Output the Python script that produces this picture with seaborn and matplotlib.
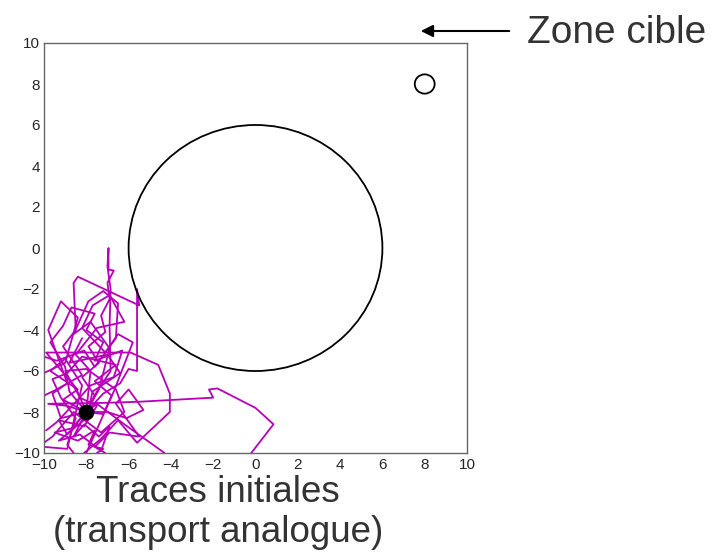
import numpy as np
import pandas as pd
import matplotlib
matplotlib.use("Agg")
import matplotlib.pyplot as plt
import seaborn as sns
from matplotlib.ticker import MultipleLocator

# ---- data ----
source_x = [-8.0]
source_y = [-8.0]

big_circle_center = (0.0, 0.0)
big_circle_radius = 6.0
target_center = (8.0, 8.0)
target_radius = 0.47

t1_x = [-8, -8.9, -9.8, -7.0, -5.5, -2.0, -2.2, -1.8, 0.0, 0.85, -0.2]
t1_y = [-8, -7.7, -7.6, -7.55, -7.5, -7.3, -6.9, -6.85, -7.8, -8.6, -10]

t2_x = [-8, -7.6, -8.2, -7.4, -7.9, -7.1, -7.3, -6.9, -7.0, -6.7, -6.95, -6.95, -7.0, -6.85, -6.9, -6.85, -7.5, -8.2]
t2_y = [-8, -7.2, -6.3, -5.6, -4.8, -4.1, -3.3, -2.5, -1.7, -1.1, -1.05, 0.0, -0.9, -2.0, -3.8, -6.0, -7.0, -8.4]

t3_x = [-8, -7.2, -6.4, -6.0, -5.6, -5.6, -5.5, -8.4, -8.6, -8.5, -9.1, -8.2, -9.4, -10]
t3_y = [-8, -7.1, -6.6, -5.9, -6.0, -2.0, -2.8, -1.4, -1.7, -4.0, -4.8, -6.2, -6.9, -7.2]

t4_x = [-8, -7.5, -6.2, -4.3]
t4_y = [-8, -7.6, -8.6, -10]

t5_x = [-8, -8.5, -9.9, -5.9, -4.6, -4.05, -4.05, -5.6, -6.5, -7.3, -8.1]
t5_y = [-8, -6.8, -5.1, -5.1, -5.7, -7.1, -8.0, -9.5, -8.4, -9.3, -10]

t6_x = [-8, -8.8, -9.0, -9.7, -9.1, -8.7, -7.6, -8.0, -7.2, -7.6, -6.3, -6.7, -7.8, -8.4, -9.4, -9.9]
t6_y = [-8, -7.0, -5.8, -4.6, -3.8, -2.9, -3.2, -4.0, -4.6, -5.5, -5.0, -6.3, -6.7, -7.4, -8.5, -8.9]

t7_x = [-8, -8.7, -9.5, -8.4, -7.6, -7.9, -7.2, -7.5]
t7_y = [-8, -8.8, -9.0, -9.4, -8.9, -9.6, -9.8, -10]

t8_x = [-8, -7.2, -6.8, -7.6, -6.6, -8.2, -8.9, -9.6, -9.2, -8.5, -8.9, -8.6]
t8_y = [-8, -8.1, -7.2, -6.5, -5.7, -5.3, -6.1, -6.4, -7.3, -8.3, -9.6, -10]

t9_x = [-8, -9.2, -9.6, -8.9, -9.8, -9.2, -8.4, -9.0, -10]
t9_y = [-8, -8.3, -7.1, -6.6, -4.0, -2.6, -3.4, -5.6, -6.1]

t10_x = [-8, -7.0, -6.1, -5.3, -6.0, -6.6, -5.5, -6.9, -7.6, -7.1]
t10_y = [-8, -8.0, -8.3, -7.9, -6.9, -7.6, -9.2, -9.0, -9.7, -10]

t11_x = [-8, -8.6, -8.1, -7.4, -6.9, -7.3, -8.3, -9.3, -8.0, -7.7, -6.4, -7.0, -8.8, -8.2]
t11_y = [-8, -9.2, -8.6, -9.2, -8.7, -9.9, -9.1, -9.4, -8.3, -7.0, -6.1, -5.2, -5.6, -4.4]

t12_x = [-8, -7.4, -6.9, -7.8, -8.6, -7.9, -7.2, -6.5, -6.6, -7.6, -8.1, -9.4, -10]
t12_y = [-8, -6.9, -4.9, -3.6, -4.2, -2.6, -2.1, -2.7, -4.4, -5.8, -5.0, -5.5, -5.3]

t13_x = [-8, -8.9, -9.3, -8.1, -7.5, -8.3, -9.0, -8.0, -6.6, -6.2, -7.3, -8.6, -9.6, -10]
t13_y = [-8, -9.1, -8.4, -8.7, -7.7, -7.3, -6.0, -5.9, -6.9, -8.0, -9.0, -8.0, -9.2, -9.5]

t14_x = [-8, -7.8, -8.5, -7.5, -6.2, -6.9, -7.7, -8.2, -7.1, -6.5, -5.8, -6.7, -8.0]
t14_y = [-8, -6.0, -5.2, -3.9, -3.6, -2.3, -2.8, -3.9, -5.1, -4.2, -4.6, -7.0, -10]

t15_x = [-8, -9.1, -8.4, -9.7, -9.0, -8.2, -8.9, -10]
t15_y = [-8, -7.4, -6.9, -6.0, -5.4, -6.7, -9.8, -9.7]

traces = [(t1_x, t1_y), (t2_x, t2_y), (t3_x, t3_y), (t4_x, t4_y), (t5_x, t5_y),
          (t6_x, t6_y), (t7_x, t7_y), (t8_x, t8_y), (t9_x, t9_y), (t10_x, t10_y),
          (t11_x, t11_y), (t12_x, t12_y), (t13_x, t13_y), (t14_x, t14_y), (t15_x, t15_y)]

ticks = [-10, -8, -6, -4, -2, 0, 2, 4, 6, 8, 10]

# ---- build frame ----
rows = []
for i, (xs, ys) in enumerate(traces):
    for j, (x, y) in enumerate(zip(xs, ys)):
        rows.append({"trace": i, "order": j, "x": x, "y": y})
df = pd.DataFrame(rows)

sns.set_style("white")
plt.rcParams['font.family'] = ['Liberation Sans', 'DejaVu Sans']

fig = plt.figure(figsize=(7.17, 5.53), dpi=100)
ax = fig.add_axes([44/717, 100/553, 423/717, 410/553])

magenta = "#b800b8"
sns.lineplot(data=df, x="x", y="y", units="trace", estimator=None, sort=False,
             color=magenta, linewidth=1.3, ax=ax, legend=False)

ax.add_patch(plt.Circle(big_circle_center, big_circle_radius, fill=False,
                        edgecolor="black", linewidth=1.3, zorder=3))
ax.add_patch(plt.Circle(target_center, target_radius, fill=False,
                        edgecolor="black", linewidth=1.3, zorder=3))

sns.scatterplot(x=source_x, y=source_y, color="black", s=110, edgecolor="black",
                ax=ax, zorder=5, legend=False)

ax.set_xlim(-10, 10)
ax.set_ylim(-10, 10)
ax.set_aspect("auto")
ax.set_xlabel("")
ax.set_ylabel("")
ax.set_xticks(ticks)
ax.set_yticks(ticks)
ax.set_xticklabels([str(t).replace("-", "\u2212") for t in ticks])
ax.set_yticklabels([str(t).replace("-", "\u2212") for t in ticks])
ax.xaxis.set_minor_locator(MultipleLocator(0.5))
ax.yaxis.set_minor_locator(MultipleLocator(0.5))
ax.tick_params(which="major", direction="in", length=13, width=1, color="#555555",
               labelsize=11, top=False, right=False)
ax.tick_params(which="minor", direction="in", length=7, width=1, color="#555555",
               top=False, right=False)
ax.tick_params(axis="x", which="major", pad=3.5)
ax.tick_params(axis="y", which="major", pad=3)
for s in ax.spines.values():
    s.set_color("#666666")
    s.set_linewidth(1.0)

# annotations
fig.text(527/717, 1 - 33/553, "Zone cible", fontsize=28, color="#333333",
         ha="left", va="center")
fig.add_artist(matplotlib.patches.FancyArrowPatch(
    (512/717, 1 - 31/553), (418/717, 1 - 31/553), transform=fig.transFigure,
    arrowstyle="-|>", mutation_scale=18, color="black", linewidth=1.5))
fig.text(218/717, 1 - 493/553, "Traces initiales", fontsize=26.5, color="#333333",
         ha="center", va="center")
fig.text(218/717, 1 - 533/553, "(transport analogue)", fontsize=26.5, color="#333333",
         ha="center", va="center")

fig.savefig("out.png", dpi=100)
